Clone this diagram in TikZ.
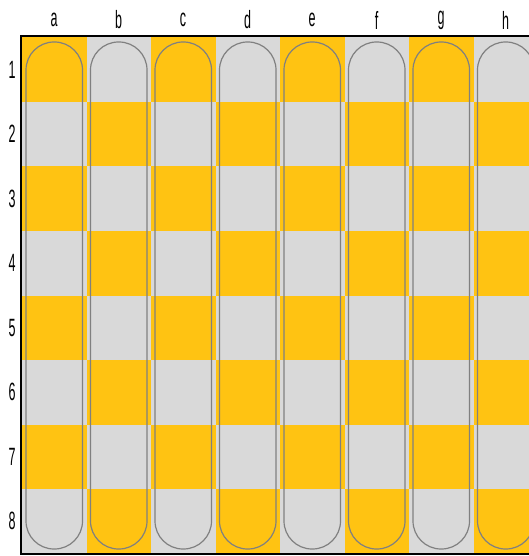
\documentclass[tikz,border=0pt]{standalone}
\usepackage{fontspec}
\setmainfont{Liberation Sans}
\usepackage{xcolor}
\usetikzlibrary{positioning}
\definecolor{sqgold}{HTML}{FFC312}
\definecolor{sqgray}{HTML}{D9D9D9}
\definecolor{trackgray}{HTML}{808080}

\begin{document}
\begin{tikzpicture}[x=1pt,y=-1pt,
  lab/.style={font=\fontsize{25}{25}\selectfont,xscale=0.5,inner sep=0pt},
  track/.style={draw=trackgray,line width=1.2pt,rounded corners=28pt},
  rim/.style={draw=black,line width=2pt}]
\useasboundingbox (0,0) rectangle (529,556);
\fill[white] (0,0) rectangle (529,556);
\begin{scope}
 \clip (0,0) rectangle (529,556);
 % squares
 \foreach \c in {0,...,7} \foreach \r in {0,...,7} {
  \pgfmathtruncatemacro\odd{mod(\c+\r,2)}
  \ifnum\odd=0 \def\sqcol{sqgold}\else\def\sqcol{sqgray}\fi
  \fill[\sqcol] ({22+64.5*\c},{37.5+64.5*\r}) rectangle ++(64.5,64.5);
 }
 % tracks
 \foreach \c in {0,...,7}
  \draw[track] ({26+64.5*\c},42) rectangle ({82.5+64.5*\c},549);
 \draw[rim] (530,36.5) -- (21,36.5) -- (21,554) -- (530,554);
\end{scope}
\foreach \l [count=\c from 0] in {a,...,h}
 \node[lab] (col-\l) at ({54+64.5*\c},20) {\l};
\foreach \n [count=\r from 0] in {1,...,8}
 \node[lab] (row-\n) at (12,{69.75+64.5*\r}) {\n};
\end{tikzpicture}
\end{document}
